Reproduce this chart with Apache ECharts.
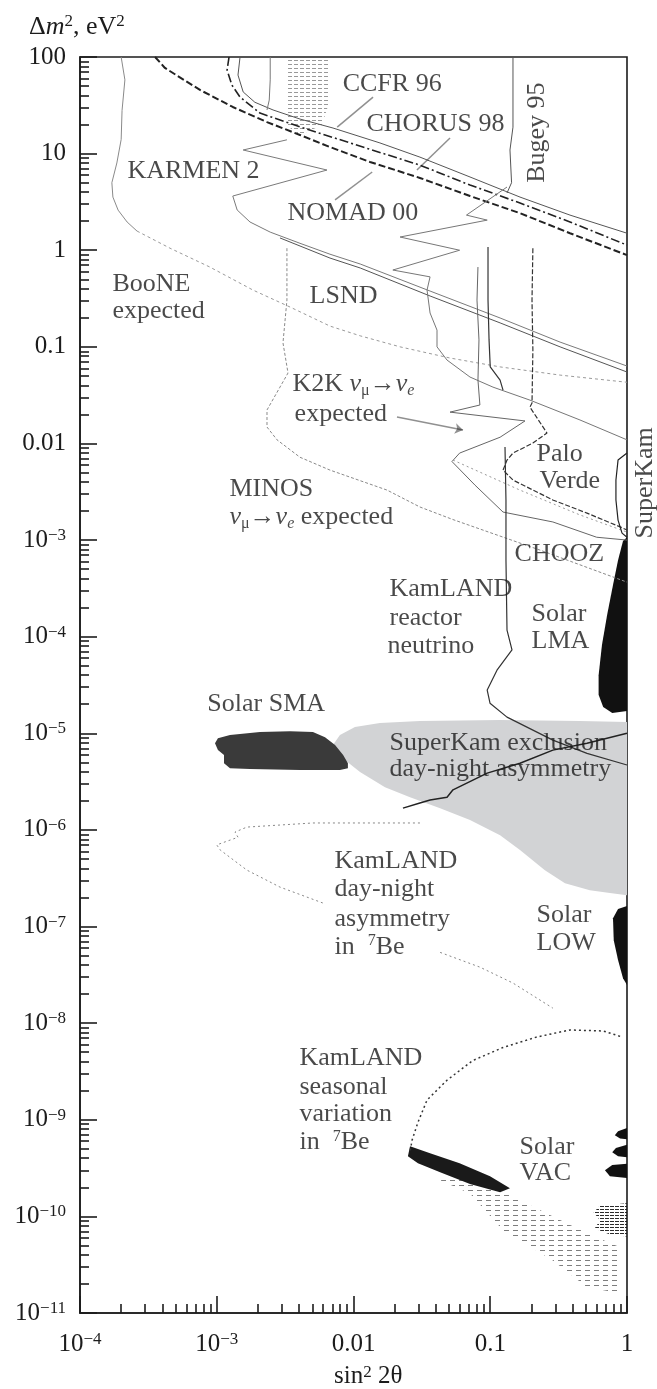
<!DOCTYPE html>
<html><head><meta charset="utf-8">
<script src="https://cdn.jsdelivr.net/npm/echarts@6/dist/echarts.min.js"></script>
<style>html,body{margin:0;padding:0;background:#fff}#c{width:657px;height:1389px}</style>
</head><body><div id="c"></div>
<script>
// ---------- tick labels ----------
const xTickValues = [1e-4, 1e-3, 0.01, 0.1, 1];
const xTickLabels = ['10^-4', '10^-3', '0.01', '0.1', '1'];
const yTickValues = [100, 10, 1, 0.1, 0.01, 1e-3, 1e-4, 1e-5, 1e-6, 1e-7, 1e-8, 1e-9, 1e-10, 1e-11];
const yTickLabels = ['100', '10', '1', '0.1', '0.01', '10^-3', '10^-4', '10^-5', '10^-6', '10^-7', '10^-8', '10^-9', '10^-10', '10^-11'];
const minorMultipliers = [2, 3, 4, 5, 6, 7, 8, 9];

// ---------- curves: [sin^2 2theta, dm^2 (eV^2)] ----------
const booneSolid = [[2.0e-4,100],[2.13e-4,58],[2.03e-4,28],[2.0e-4,14],[1.86e-4,8.0],[1.71e-4,5.0],[1.74e-4,3.55],[1.9e-4,2.6],[2.21e-4,1.96],[2.61e-4,1.58]];
const booneDotted = [[2.61e-4,1.58],[4.55e-4,1.05],[8.9e-4,0.67],[1.84e-3,0.387],[3.44e-3,0.258],[6.73e-3,0.164],[1.12e-2,0.13],[2.19e-2,0.1],[5.08e-2,0.0766],[0.118,0.062],[0.324,0.051],[1.0,0.043]];
const ccfr96 = [[1.48e-3,100],[1.43e-3,65],[1.56e-3,43.5],[1.9e-3,34],[2.58e-3,28.3],[4.06e-3,22.8],[7.08e-3,18.4],[1.56e-2,12.9],[3.06e-2,9.2],[7.11e-2,5.73],[0.165,3.55],[0.383,2.31],[1.0,1.5]];
const chorus98 = [[1.23e-3,100],[1.19e-3,73.3],[1.29e-3,51.3],[1.48e-3,38.5],[2.07e-3,26.3],[4.06e-3,18.9],[9.43e-3,12.9],[3.06e-2,7.6],[7.11e-2,4.73],[0.165,3.08],[0.383,1.96],[1.0,1.13]];
const nomad00 = [[3.54e-4,100],[4.18e-4,77],[7.54e-4,45.6],[1.31e-3,30.4],[2.33e-3,21.2],[4.06e-3,15.6],[6.73e-3,11.7],[1.32e-2,8.2],[3.06e-2,5.6],[7.11e-2,3.64],[0.165,2.42],[0.383,1.5],[1.0,0.89]];
const verticalLimit = [[2.46e-3,100],[2.46e-3,58],[2.42e-3,35.8],[2.33e-3,28.3]];
const karmen2 = [[3.26e-3,13.9],[1.56e-3,10.9],[6.4e-3,6.76],[1.31e-3,3.64],[1.41e-3,2.61],[1.75e-3,1.96],[2.46e-3,1.54],[4.06e-3,1.18],[6.73e-3,0.91],[1.12e-2,0.72],[3.63e-2,0.378],[0.118,0.199],[0.324,0.112],[1.0,0.0633]];
const lsndUpper = [[2.9e-3,1.34],[6.73e-3,0.83],[1.12e-2,0.655],[3.63e-2,0.336],[0.118,0.177],[0.324,0.1],[1.0,0.0549]];
const lsndLower = [[0.1326,4.51],[6.7e-2,2.31],[9.5e-2,2.05],[2.19e-2,1.37],[5.97e-2,1.0],[1.94e-2,0.624],[3.63e-2,0.53],[3.45e-2,0.387],[3.63e-2,0.224],[4.08e-2,0.149],[4.08e-2,0.1],[4.83e-2,0.073],[7.11e-2,0.0487],[0.1047,0.0383],[0.195,0.0281],[0.453,0.0175],[1.0,0.0109]];
const bugey95 = [[0.1466,100],[0.1466,18.8],[0.1394,10.9],[0.1432,5.0],[0.1326,3.91]];
const paloVerde = [[0.205,1.05],[0.202,0.305],[0.205,0.0928],[0.202,0.0262],[0.195,0.0238],[0.26,0.0128],[0.205,0.0101],[0.1466,7.95e-3],[0.1326,6.73e-3],[0.124,5.3e-3],[0.1466,4.18e-3],[0.287,2.6e-3],[0.51,1.9e-3],[0.89,1.37e-3],[1.0,1.27e-3]];
const chooz = [[8.13e-2,0.67],[8.0e-2,0.305],[8.27e-2,0.118],[8.13e-2,0.0453],[8.4e-2,0.025],[5.08e-2,0.0211],[0.1795,0.0171],[0.118,0.0116],[5.97e-2,7.95e-3],[5.25e-2,6.5e-3],[7.74e-2,3.7e-3],[0.124,1.95e-3],[0.287,1.54e-3],[0.60,1.07e-3],[1.0,1.0e-3]];
const innerLimit = [[9.63e-2,1.08],[9.63e-2,0.305],[9.8e-2,0.118],[0.1,0.062],[0.118,0.0453],[0.124,0.0357]];
const k2kExpected = [[3.26e-3,1.05],[3.26e-3,0.305],[3.05e-3,0.11],[3.32e-3,0.0536],[2.9e-3,0.0383],[2.33e-3,0.0222],[2.33e-3,0.0148],[2.76e-3,0.0109],[4.06e-3,7.2e-3],[6.73e-3,5.3e-3],[1.76e-2,3.29e-3],[3.06e-2,2.2e-3],[5.34e-2,1.63e-3],[0.231,7.88e-4],[0.79,4.15e-4],[1.0,3.67e-4]];
const minosExpected = [[5.34e-2,6.73e-3],[0.165,3.29e-3],[0.453,1.82e-3],[1.0,1.21e-3]];
const kamlandReactor = [[0.1282,9.2e-3],[0.1303,2.6e-3],[0.1303,6.2e-4],[0.1326,1.17e-4],[0.1442,7.3e-5],[0.112,4.5e-5],[9.5e-2,2.8e-5],[9.96e-2,2.05e-5],[0.1326,1.47e-5],[0.287,8.5e-6],[0.51,6.2e-6],[1.0,4.7e-6]];
const dayNightBound = [[1.0,1.0e-5],[0.51,7.9e-6],[0.287,6.7e-6],[0.165,4.9e-6],[9.5e-2,3.87e-6],[5.34e-2,2.6e-6],[4.83e-2,2.18e-6],[3.63e-2,2.04e-6],[3.06e-2,1.9e-6],[2.3e-2,1.68e-6]];
const kamlandDN1 = [[3.06e-2,1.18e-6],[1.56e-2,1.18e-6],[5.05e-3,1.18e-6],[1.66e-3,1.07e-6],[1.36e-3,9.5e-7],[1.43e-3,8.4e-7],[1.0e-3,7.0e-7],[1.06e-3,6.2e-7],[1.66e-3,3.84e-7],[2.9e-3,2.56e-7],[5.98e-3,1.75e-7]];
const kamlandDN2 = [[4.3e-2,5.4e-8],[8.4e-2,3.8e-8],[0.1466,2.6e-8],[0.287,1.43e-8]];
const superKamContour = [[1.0,7.95e-3],[0.86,6.73e-3],[0.83,4.18e-3],[0.83,2.6e-3],[0.86,1.61e-3],[0.92,1.18e-3],[1.0,1.07e-3]];
const seasonalArc = [[0.89,7.3e-9],[0.67,8.3e-9],[0.383,8.5e-9],[0.22,7.2e-9],[0.124,5.6e-9],[7.45e-2,4.1e-9],[4.83e-2,2.57e-9],[3.45e-2,1.6e-9],[2.96e-2,9.4e-10],[2.68e-2,6.15e-10],[2.59e-2,4.6e-10]];

// ---------- filled regions ----------
const skExclusion = [[7.08e-3,7.55e-6],[7.96e-3,9.6e-6],[1.025e-2,1.16e-5],[1.56e-2,1.28e-5],[3.06e-2,1.34e-5],[0.118,1.37e-5],[0.453,1.34e-5],[1.0,1.31e-5],[1.0,2.11e-7],[0.75,2.22e-7],[0.535,2.38e-7],[0.352,2.81e-7],[0.251,3.83e-7],[0.165,6.2e-7],[0.118,8.8e-7],[7.11e-2,1.27e-6],[4.3e-2,1.68e-6],[2.59e-2,2.18e-6],[1.7e-2,2.77e-6],[1.116e-2,3.97e-6],[8.66e-3,5.28e-6],[7.33e-3,6.39e-6]];
const solarSMA = [[9.71e-4,7.9e-6],[1.02e-3,8.9e-6],[1.25e-3,9.6e-6],[2.07e-3,1.03e-5],[3.44e-3,1.05e-5],[5.05e-3,1.03e-5],[6.19e-3,9.1e-6],[7.33e-3,7.55e-6],[8.4e-3,5.95e-6],[9.1e-3,4.9e-6],[9.1e-3,4.36e-6],[7.96e-3,4.16e-6],[4.06e-3,4.16e-6],[1.75e-3,4.26e-6],[1.25e-3,4.36e-6],[1.13e-3,4.9e-6],[1.13e-3,5.95e-6],[1.02e-3,6.7e-6]];
const solarLMA = [[1.0,1.07e-3],[0.935,9.76e-4],[0.86,6.2e-4],[0.79,3.42e-4],[0.715,1.67e-4],[0.656,8.2e-5],[0.62,4.0e-5],[0.62,2.5e-5],[0.67,1.87e-5],[0.78,1.62e-5],[1.0,1.7e-5]];
const solarLOW = [[1.0,1.63e-7],[0.86,1.52e-7],[0.79,1.22e-7],[0.80,7.2e-8],[0.86,4.5e-8],[0.935,2.92e-8],[1.0,2.48e-8]];
const solarVAC1 = [[1.0,8.2e-10],[0.86,7.6e-10],[0.815,6.9e-10],[0.89,6.4e-10],[1.0,6.3e-10]];
const solarVAC2 = [[1.0,5.5e-10],[0.83,5.1e-10],[0.78,4.6e-10],[0.86,4.2e-10],[1.0,4.1e-10]];
const solarVAC3 = [[1.0,3.5e-10],[0.78,3.4e-10],[0.69,3.0e-10],[0.75,2.6e-10],[1.0,2.5e-10]];
const solarVAC4 = [[1.0,1.37e-10],[0.635,1.3e-10],[0.57,1.1e-10],[0.635,9.1e-11],[0.58,7.5e-11],[0.75,6.5e-11],[1.0,6.2e-11]];
const seasonalBand = [[2.59e-2,5.33e-10],[3.63e-2,4.51e-10],[5.97e-2,3.55e-10],[9.96e-2,2.61e-10],[0.1394,1.96e-10],[0.118,1.78e-10],[7.11e-2,2.16e-10],[4.3e-2,2.87e-10],[2.96e-2,3.55e-10],[2.5e-2,4.2e-10]];
const seasonalSpread = [[7.11e-2,3.0e-10],[0.165,1.47e-10],[0.51,6.7e-11],[0.89,4.8e-11],[0.89,1.6e-11],[0.51,1.85e-11],[0.287,3.5e-11],[0.124,7.2e-11],[7.11e-2,1.73e-10],[4.3e-2,2.37e-10]];
const nutevRegion = [[3.32e-3,100],[6.5e-3,100],[6.73e-3,35.8],[5.86e-3,19.7],[4.06e-3,15.6],[3.21e-3,19.7],[3.32e-3,45.6]];

// ---------- label pointers ----------
const pointerLines = [
  [[1.39e-2,38.5],[7.6e-3,18.8]],
  [[5.08e-2,14.5],[2.91e-2,6.76]],
  [[7.33e-3,3.32],[1.37e-2,6.45]]
];
const k2kArrow = [[2.08e-2,1.88e-2],[6.32e-2,1.38e-2]];

// ---------- annotations: [text, sin^2 2theta, dm^2] ----------
const annotations = [
  ['KARMEN 2', 2.24e-4, 6.45],
  ['BooNE', 1.74e-4, 0.436],
  ['expected', 1.74e-4, 0.229],
  ['CCFR 96', 8.4e-3, 51.3],
  ['CHORUS 98', 1.255e-2, 19.8],
  ['NOMAD 00', 3.32e-3, 2.37],
  ['LSND', 4.81e-3, 0.328],
  ['K2K {i|ν}{sub|μ}→{i|ν}{subi|e}', 3.61e-3, 0.0403],
  ['expected', 3.74e-3, 0.0197],
  ['MINOS', 1.25e-3, 3.29e-3],
  ['{i|ν}{sub|μ}→{i|ν}{subi|e} expected', 1.25e-3, 1.69e-3],
  ['Palo', 0.22, 7.6e-3],
  ['Verde', 0.231, 3.99e-3],
  ['CHOOZ', 0.152, 7.0e-4],
  ['KamLAND', 1.85e-2, 3.04e-4],
  ['reactor', 1.85e-2, 1.52e-4],
  ['neutrino', 1.79e-2, 7.8e-5],
  ['Solar', 0.202, 1.71e-4],
  ['LMA', 0.202, 8.8e-5],
  ['Solar SMA', 8.6e-4, 1.96e-5],
  ['SuperKam exclusion', 1.85e-2, 7.9e-6],
  ['day-night asymmetry', 1.85e-2, 4.16e-6],
  ['KamLAND', 7.33e-3, 4.64e-7],
  ['day-night', 7.33e-3, 2.38e-7],
  ['asymmetry', 7.33e-3, 1.19e-7],
  ['in  {sup|7}Be', 7.33e-3, 6.1e-8],
  ['Solar', 0.22, 1.31e-7],
  ['LOW', 0.22, 6.6e-8],
  ['KamLAND', 4.06e-3, 4.24e-9],
  ['seasonal', 4.06e-3, 2.17e-9],
  ['variation', 4.06e-3, 1.12e-9],
  ['in  {sup|7}Be', 4.06e-3, 5.73e-10],
  ['Solar', 0.165, 5.2e-10],
  ['VAC', 0.165, 2.74e-10]
];
const rotatedAnnotations = [
  ['Bugey 95', 0.224, 16.3, 0],
  ['SuperKam', 1.0, 3.87e-3, 19]
];

// ---------- build ----------
const FONT = '"Liberation Serif","Times New Roman",serif';
const INK = '#1c1c1c';
function sciLabel(t) {
  const i = t.indexOf('^');
  if (i < 0) return '{b|' + t + '}';
  return '{b|' + t.slice(0, i) + '}{s|' + t.slice(i + 1).replace('-', '\u2212') + '}';
}
function labelFor(values, labels) {
  return v => {
    const lv = Math.log10(v);
    for (let k = 0; k < values.length; k++) if (Math.abs(Math.log10(values[k]) - lv) < 1e-6) return sciLabel(labels[k]);
    return '';
  };
}
function minorTicks(loExp, hiExp) {
  const out = [];
  for (let e = loExp; e < hiExp; e++) minorMultipliers.forEach(m => out.push(m * Math.pow(10, e)));
  return out;
}
function hatch(w, h, dash, color) {
  const c = document.createElement('canvas');
  c.width = w; c.height = h;
  const g = c.getContext('2d');
  g.fillStyle = color; g.fillRect(0, 0, dash, 1);
  return {image: c, repeat: 'repeat'};
}
const tickRich = {
  b: {fontSize: 25, fontFamily: FONT, color: INK, lineHeight: 26},
  s: {fontSize: 17, fontFamily: FONT, color: INK, lineHeight: 12, verticalAlign: 'top'}
};
const annRich = {
  i: {fontSize: 26, fontFamily: FONT, fontStyle: 'italic', color: INK, lineHeight: 28},
  sub: {fontSize: 16, fontFamily: FONT, color: INK, lineHeight: 8, verticalAlign: 'bottom'},
  subi: {fontSize: 16, fontFamily: FONT, fontStyle: 'italic', color: INK, lineHeight: 8, verticalAlign: 'bottom'},
  sup: {fontSize: 16, fontFamily: FONT, color: INK, lineHeight: 12, verticalAlign: 'top'}
};

function line(data, color, width, type, z) {
  return {type: 'line', data, xAxisIndex: 0, yAxisIndex: 0, showSymbol: false, symbol: 'none', silent: true,
    animation: false, clip: true, z: z || 3, lineStyle: {color, width, type: type || 'solid'}};
}
function polygon(points, fill, z) {
  return {type: 'custom', coordinateSystem: 'cartesian2d', xAxisIndex: 0, yAxisIndex: 0, silent: true, clip: true,
    animation: false, z: z || 1, data: [points[0]],
    renderItem: (params, api) => ({type: 'polygon', shape: {points: points.map(p => api.coord(p))}, style: {fill}})};
}

const axisLineStyle = {color: INK, width: 1.6};
const option = {
  backgroundColor: '#fff',
  animation: false,
  grid: {left: 80, right: 30, top: 57, bottom: 76, show: true, borderColor: INK, borderWidth: 1.6, containLabel: false},
  xAxis: [
    {type: 'log', logBase: 10, min: 1e-4, max: 1, interval: 1, position: 'bottom',
      axisLine: {show: true, lineStyle: axisLineStyle}, axisTick: {show: true, inside: true, length: 17, lineStyle: axisLineStyle},
      axisLabel: {margin: 18, formatter: labelFor(xTickValues, xTickLabels), rich: tickRich}, splitLine: {show: false}},
    {type: 'log', logBase: 10, min: 1e-4, max: 1, position: 'bottom',
      axisLine: {show: false}, axisTick: {show: true, inside: true, length: 9, customValues: minorTicks(-4, 0), lineStyle: axisLineStyle},
      axisLabel: {show: false}, splitLine: {show: false}}
  ],
  yAxis: [
    {type: 'log', logBase: 10, min: 1e-11, max: 100, interval: 1, position: 'left',
      axisLine: {show: true, lineStyle: axisLineStyle}, axisTick: {show: true, inside: true, length: 17, lineStyle: axisLineStyle},
      axisLabel: {margin: 14, formatter: labelFor(yTickValues, yTickLabels), rich: tickRich}, splitLine: {show: false}},
    {type: 'log', logBase: 10, min: 1e-11, max: 100, position: 'left',
      axisLine: {show: false}, axisTick: {show: true, inside: true, length: 9, customValues: minorTicks(-11, 2), lineStyle: axisLineStyle},
      axisLabel: {show: false}, splitLine: {show: false}}
  ],
  graphic: [
    {type: 'text', left: 29, top: 13, style: {text: 'Δ{i|m}{s|2}, eV{s|2}', font: '26px ' + FONT, fill: INK,
      rich: {i: {fontStyle: 'italic', fontSize: 26, fontFamily: FONT, fill: INK, lineHeight: 28}, s: {fontSize: 17, fontFamily: FONT, fill: INK, lineHeight: 12, verticalAlign: 'top'}}}},
    {type: 'text', left: 334, top: 1364, style: {text: 'sin{s|2} 2θ', font: '25px ' + FONT, fill: INK,
      rich: {s: {fontSize: 17, fontFamily: FONT, fill: INK, lineHeight: 12, verticalAlign: 'top'}}}}
  ],
  series: [
    polygon(skExclusion, '#d2d3d5', 1),
    polygon(nutevRegion, hatch(6, 4, 4, 'rgba(70,70,70,0.55)'), 1),
    polygon(solarSMA, '#3a3a3a', 2),
    polygon(solarLMA, '#111', 2),
    polygon(solarLOW, '#111', 2),
    polygon(solarVAC1, '#111', 2),
    polygon(solarVAC2, '#111', 2),
    polygon(solarVAC3, '#111', 2),
    polygon(solarVAC4, hatch(5, 3, 4, 'rgba(20,20,20,0.9)'), 2),
    polygon(seasonalSpread, hatch(9, 5, 5, 'rgba(40,40,40,0.6)'), 2),
    polygon(seasonalBand, '#1a1a1a', 2),
    line(booneSolid, '#8a8a8a', 1),
    line(booneDotted, '#9a9a9a', 1, [3, 3]),
    line(ccfr96, '#555', 1),
    line(chorus98, '#222', 1.6, [9, 3, 2, 3]),
    line(nomad00, '#222', 2, [7, 3]),
    line(verticalLimit, '#777', 1),
    line(karmen2, '#7a7a7a', 1),
    line(lsndUpper, '#555', 1),
    line(lsndLower, '#777', 1),
    line(bugey95, '#555', 1),
    line(paloVerde, '#333', 1.2, [5, 2]),
    line(chooz, '#666', 1),
    line(innerLimit, '#333', 1.2),
    line(k2kExpected, '#8a8a8a', 1, [3, 2]),
    line(minosExpected, '#999', 1, [2, 3]),
    line(kamlandReactor, '#333', 1.2),
    line(dayNightBound, '#222', 1.5),
    line(kamlandDN1, '#888', 1, [2, 3]),
    line(kamlandDN2, '#888', 1, [2, 3]),
    line(superKamContour, '#222', 1.2),
    line(seasonalArc, '#333', 1.5, [2, 3]),
    {type: 'lines', coordinateSystem: 'cartesian2d', xAxisIndex: 0, yAxisIndex: 0, silent: true, animation: false, z: 4,
      data: pointerLines.map(c => ({coords: c})), lineStyle: {color: '#222', width: 1.5}},
    {type: 'lines', coordinateSystem: 'cartesian2d', xAxisIndex: 0, yAxisIndex: 0, silent: true, animation: false, z: 4,
      symbol: ['none', 'arrow'], symbolSize: 8,
      data: [{coords: k2kArrow}], lineStyle: {color: '#222', width: 1.5}},
    {type: 'scatter', xAxisIndex: 0, yAxisIndex: 0, silent: true, animation: false, z: 6, symbolSize: 1,
      itemStyle: {color: 'rgba(0,0,0,0)'},
      data: annotations.map(a => ({name: a[0], value: [a[1], a[2]]})),
      label: {show: true, formatter: '{b}', position: [0, 0], align: 'left', verticalAlign: 'middle',
        fontSize: 26, fontFamily: FONT, color: INK, lineHeight: 28, rich: annRich}},
    {type: 'scatter', xAxisIndex: 0, yAxisIndex: 0, silent: true, animation: false, z: 6, symbolSize: 1,
      itemStyle: {color: 'rgba(0,0,0,0)'}, clip: false,
      data: rotatedAnnotations.map(a => ({name: a[0], value: [a[1], a[2]], label: {offset: [0, a[3]]}})),
      label: {show: true, formatter: '{b}', position: [0, 0], align: 'center', verticalAlign: 'middle', rotate: 90,
        fontSize: 26, fontFamily: FONT, color: INK}}
  ]
};
const chart = echarts.init(document.getElementById('c'), null, {renderer: 'canvas'});
chart.setOption(option);
</script></body></html>
